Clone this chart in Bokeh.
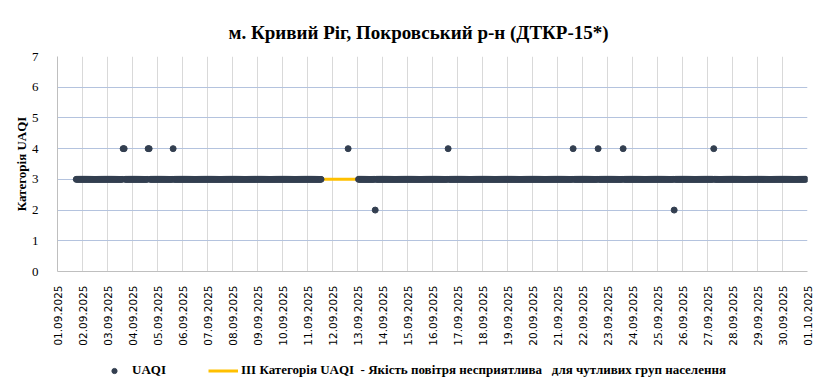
import numpy as np
from bokeh.plotting import figure
from bokeh.layouts import column
from bokeh.models import FixedTicker, Legend, LegendItem, Range1d
from bokeh.embed import file_html
from bokeh.resources import INLINE

# ---------------- data ----------------
title_text = "м. Кривий Ріг, Покровський р-н (ДТКР-15*)"
y_label = "Категорія UAQI"
legend_uaqi = "UAQI"
legend_threshold = "ІІІ Категорія UAQI  - Якість повітря несприятлива   для чутливих груп населення"

date_labels = ["01.09.2025", "02.09.2025", "03.09.2025", "04.09.2025", "05.09.2025",
               "06.09.2025", "07.09.2025", "08.09.2025", "09.09.2025", "10.09.2025",
               "11.09.2025", "12.09.2025", "13.09.2025", "14.09.2025", "15.09.2025",
               "16.09.2025", "17.09.2025", "18.09.2025", "19.09.2025", "20.09.2025",
               "21.09.2025", "22.09.2025", "23.09.2025", "24.09.2025", "25.09.2025",
               "26.09.2025", "27.09.2025", "28.09.2025", "29.09.2025", "30.09.2025",
               "01.10.2025"]
hours_per_day = 24

# hourly UAQI category, hour 0 = 01.09.2025 00:00
series_start_hour = 18
series_end_hour = 718
missing_hours = list(range(254, 289))      # no measurements (12.09 gap)
category4_hours = [63, 64, 87, 88, 111, 279, 375, 495, 519, 543, 630]
category2_hours = [305, 592]
usual_category = 3
threshold_category = 3
y_max = 7

# ---------------- build table ----------------
hours = list(range(series_start_hour, series_end_hour + 1))
uaqi = []
for h in hours:
    if h in category4_hours:
        uaqi.append(4)
    elif h in category2_hours:
        uaqi.append(2)
    elif h in missing_hours:
        uaqi.append(np.nan)
    else:
        uaqi.append(usual_category)
threshold = [threshold_category] * len(hours)

n_days = len(date_labels) - 1
tick_pos = [i * hours_per_day for i in range(len(date_labels))]

DOT_COLOR = "#333F50"
LINE_COLOR = "#FFC000"

# ---------------- main figure ----------------
p = figure(width=823, height=350, output_backend="svg", toolbar_location=None,
           x_range=Range1d(0, n_days * hours_per_day), y_range=Range1d(0, y_max),
           min_border_left=57, min_border_right=16, min_border_top=56, min_border_bottom=79)
p.title.text = title_text
p.title.text_font = "Liberation Serif"
p.title.text_font_style = "bold"
p.title.text_font_size = "19px"
p.title.align = "left"
p.title.offset = 171
p.title.text_color = "#000000"
p.title.standoff = 28
p.outline_line_color = None

line_r = p.line(hours, threshold, line_color=LINE_COLOR, line_width=3)
dots_r = p.scatter(hours, uaqi, size=6, fill_color=DOT_COLOR, line_color=DOT_COLOR)

xa = p.xaxis[0]
xa.ticker = FixedTicker(ticks=tick_pos)
xa.major_label_overrides = {t: lab for t, lab in zip(tick_pos, date_labels)}
xa.major_label_orientation = np.pi / 2
xa.major_label_text_font = "DejaVu Sans"
xa.major_label_text_font_size = "10.5px"
xa.major_label_text_color = "#000000"
xa.major_label_standoff = 8
xa.major_tick_line_color = None
xa.minor_tick_line_color = None
xa.axis_line_color = "#BFBFBF"

ya = p.yaxis[0]
ya.ticker = FixedTicker(ticks=list(range(0, y_max + 1)))
ya.major_label_text_font = "Liberation Serif"
ya.major_label_text_font_size = "13px"
ya.major_label_text_color = "#000000"
ya.major_label_standoff = 13
ya.major_tick_line_color = None
ya.minor_tick_line_color = None
ya.axis_line_color = "#BFBFBF"
ya.axis_label = y_label
ya.axis_label_text_font = "Liberation Serif"
ya.axis_label_text_font_style = "bold"
ya.axis_label_text_font_size = "13px"
ya.axis_label_text_color = "#000000"
ya.axis_label_standoff = 0

p.xgrid.ticker = FixedTicker(ticks=tick_pos)
p.xgrid.grid_line_color = "#D9D9D9"
p.ygrid.grid_line_color = "#B4C3DE"

# ---------------- legend strip (same series, plotted out of view) ----------------
lg = figure(width=823, height=42, output_backend="svg", toolbar_location=None,
            x_range=Range1d(-2, -1), y_range=Range1d(-2, -1),
            x_axis_location=None, y_axis_location=None,
            min_border_left=0, min_border_right=0, min_border_top=0, min_border_bottom=0)
lg.outline_line_color = None
lg.grid.visible = False
lg_line = lg.line(hours, threshold, line_color=LINE_COLOR, line_width=3)
lg_dots = lg.scatter(hours, uaqi, size=6, fill_color=DOT_COLOR, line_color=DOT_COLOR)

legend = Legend(items=[LegendItem(label=legend_uaqi, renderers=[lg_dots]),
                       LegendItem(label=legend_threshold, renderers=[lg_line])],
                orientation="horizontal", location=(42, 14),
                glyph_width=30, glyph_height=13, label_standoff=3, spacing=42,
                padding=4, margin=0, border_line_color=None, background_fill_alpha=0,
                label_text_font="Liberation Serif", label_text_font_style="bold",
                label_text_font_size="13px", label_text_color="#000000")
lg.add_layout(legend, "center")

layout = column(p, lg, spacing=0)
open("out.html", "w").write(file_html(layout, INLINE))
